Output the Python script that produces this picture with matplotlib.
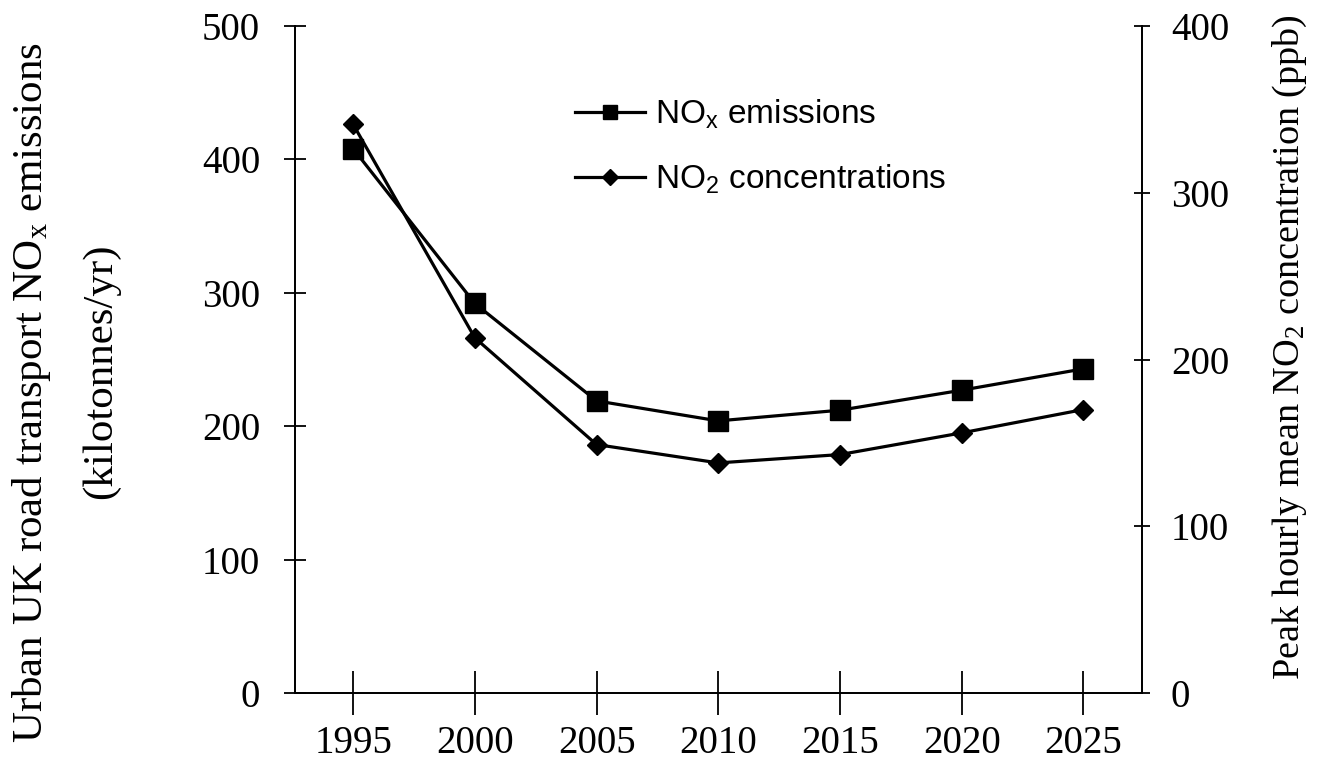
import numpy as np
import matplotlib
matplotlib.use("Agg")
import matplotlib.pyplot as plt

# data
years = [1995, 2000, 2005, 2010, 2015, 2020, 2025]
nox_emissions = [408, 292, 219, 204, 212, 227, 243]        # kilotonnes/yr, left axis
no2_concentrations = [341, 213, 149, 138, 143, 156, 170]   # ppb, right axis

plt.rcParams['font.family'] = ['Liberation Serif', 'DejaVu Serif']
plt.rcParams['mathtext.default'] = 'regular'

fig = plt.figure(figsize=(13.23, 7.72), dpi=100)
ax = fig.add_axes([0.2228, 0.1023, 0.8630 - 0.2228, 0.9663 - 0.1023])
ax2 = ax.twinx()

l1, = ax.plot(years, nox_emissions, color='black', lw=2.3, marker='s', markersize=14,
              label='NO$_x$ emissions')
l2, = ax2.plot(years, no2_concentrations, color='black', lw=2.3, marker='D', markersize=10.5,
               label='NO$_2$ concentrations')

ax.set_xlim(1992.6, 2027.4)
ax.set_ylim(0, 500)
ax2.set_ylim(0, 400)
ax.set_xticks(years)
ax.set_yticks([0, 100, 200, 300, 400, 500])
ax2.set_yticks([0, 100, 200, 300, 400])

for a in (ax, ax2):
    a.spines['top'].set_visible(False)
    for s in a.spines.values():
        s.set_linewidth(1.3)
        s.set_color('black')

ax.tick_params(axis='x', direction='inout', length=32, width=1.3, pad=7, labelsize=28)
ax.tick_params(axis='y', direction='inout', length=16, width=1.3, pad=17, labelsize=28)
ax2.tick_params(axis='y', direction='inout', length=12, width=1.3, pad=15, labelsize=28)

# axis titles
fig.text(0.024, 0.492, 'Urban UK road transport NO$_x$ emissions', rotation=90,
         ha='center', va='center', fontsize=31)
fig.text(0.076, 0.519, '(kilotonnes/yr)', rotation=90,
         ha='center', va='center', fontsize=31)
fig.text(0.975, 0.55, 'Peak hourly mean NO$_2$ concentration (ppb)', rotation=90,
         ha='center', va='center', fontsize=27.5)

leg = ax.legend([l1, l2], [l1.get_label(), l2.get_label()],
                loc='upper left', bbox_to_anchor=(0.4346, 1 - 98 / 772),
                bbox_transform=fig.transFigure, frameon=False,
                prop={'family': 'Liberation Sans', 'size': 24},
                handlelength=2.1, handletextpad=0.3, labelspacing=0.95,
                borderpad=0, borderaxespad=0, markerscale=0.75)

fig.savefig('out.png', dpi=100)
